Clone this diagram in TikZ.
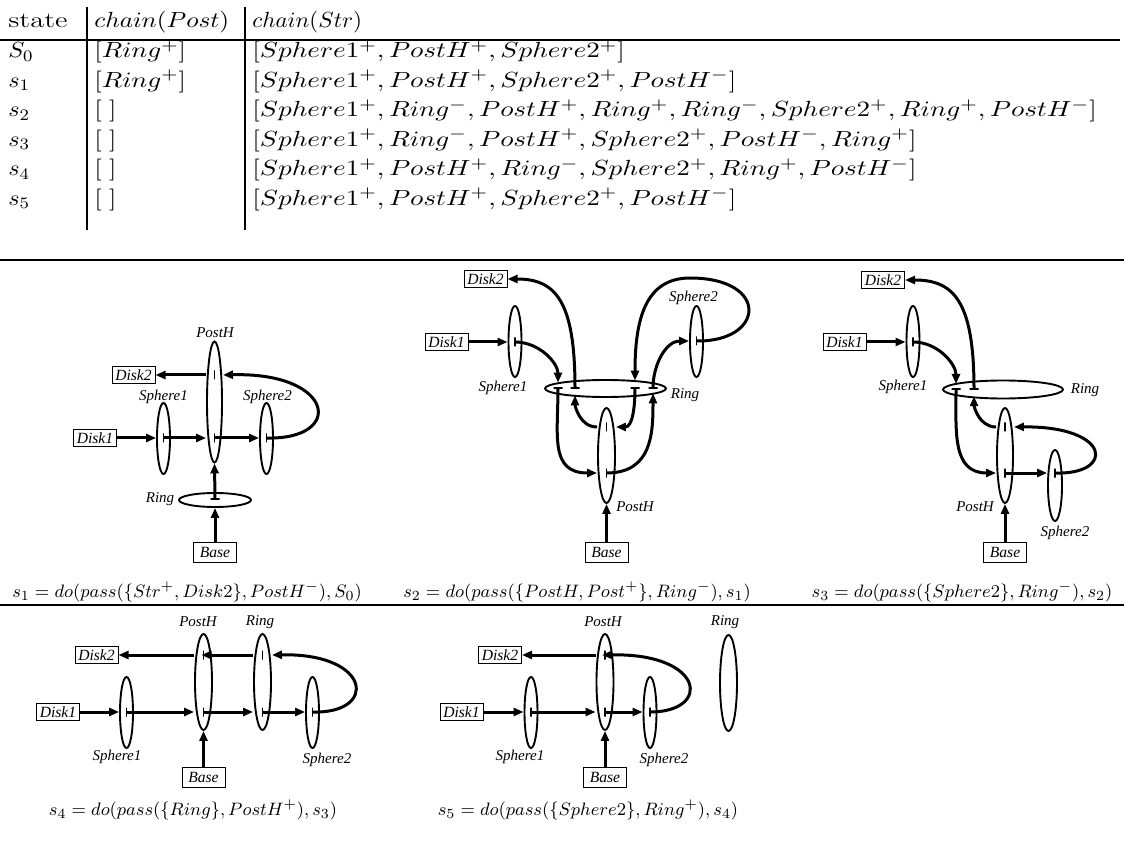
\documentclass[tikz,border=0pt]{standalone}
\usepackage{fontspec}
\newfontfamily\lblfont{Liberation Serif}
\usepackage{tikz}
\usetikzlibrary{arrows.meta,shapes.geometric}
\newcommand\hwide[2]{\scalebox{#1}[1]{#2}}

\begin{document}
\begin{tikzpicture}[
  x=0.5pt, y=-0.5pt,
  >={Triangle[length=5pt,width=4pt]},
  ell/.style 2 args={draw, ellipse, line width=0.95pt, inner sep=0pt, minimum width=#1, minimum height=#2},
  vtk/.style={draw, line width=0.7pt, inner sep=0pt, minimum width=0pt, minimum height=4.5pt},
  htk/.style={draw, line width=0.7pt, inner sep=0pt, minimum height=0pt, minimum width=4.5pt},
  box/.style={draw, line width=0.5pt, inner sep=0pt, minimum width=21.5pt, minimum height=8.5pt, font=\lblfont\itshape\fontsize{7.8}{9}\selectfont},
  lab/.style={inner sep=0pt, font=\lblfont\itshape\fontsize{7.5}{9}\selectfont},
  str/.style={->, line width=1.5pt},
  capt/.style={inner sep=0pt, font=\fontsize{9.5}{11}\selectfont},
  cell/.style={anchor=base west, inner sep=0pt, font=\fontsize{11}{13}\selectfont},
  rule/.style={line width=1pt},
]
\useasboundingbox (0,0) rectangle (1124,844);

% Table of chains
\node[cell] (h1) at (8,28) {\hwide{1.3}{state}};
\node[cell] (h2) at (94,28) {\hwide{1.15}{$chain(Post)$}};
\node[cell] (h3) at (252,28) {\hwide{1.05}{$chain(Str)$}};
\foreach \st/\po/\sr [count=\i] in {
  {$S_0$}/{$[Ring^+]$}/{$[Sphere1^+, PostH^+, Sphere2^+]$},
  {$s_1$}/{$[Ring^+]$}/{$[Sphere1^+, PostH^+, Sphere2^+, PostH^-]$},
  {$s_2$}/{$[\;]$}/{$[Sphere1^+, Ring^-, PostH^+, Ring^+, Ring^-, Sphere2^+, Ring^+, PostH^-]$},
  {$s_3$}/{$[\;]$}/{$[Sphere1^+, Ring^-, PostH^+, Sphere2^+, PostH^-, Ring^+]$},
  {$s_4$}/{$[\;]$}/{$[Sphere1^+, PostH^+, Ring^-, Sphere2^+, Ring^+, PostH^-]$},
  {$s_5$}/{$[\;]$}/{$[Sphere1^+, PostH^+, Sphere2^+, PostH^-]$}}
{
  \node[cell] (st\i) at (8,{28.5+29.5*\i}) {\hwide{1.1}{\st}};
  \node[cell] (po\i) at (94,{28.5+29.5*\i}) {\hwide{1.22}{\po}};
  \node[cell] (sr\i) at (252,{28.5+29.5*\i}) {\hwide{1.24}{\sr}};
}
\draw[rule, line width=1.2pt] (0,40) -- (1120,40);
\draw[rule] (87,7) -- (87,230) (245,7) -- (245,230);
\draw[rule] (0,260) -- (1124,260);
\draw[rule, line width=1.3pt] (0,605) -- (1124,605);

% Panel s1
\node[ell={7.5pt}{60.5pt}] (ph1) at (214.5,402) {};
\node[ell={6.5pt}{35.5pt}] (sa1) at (163.5,438.5) {};
\node[ell={6.5pt}{35.5pt}] (sb1) at (266.5,438.5) {};
\node[ell={36pt}{7pt}] (rg1) at (215,500) {};
\node[vtk] (tp1a) at (214.5,375) {}; \node[vtk] (tp1b) at (214.5,438) {};
\node[vtk] (ta1) at (163.5,438) {}; \node[vtk] (tb1) at (266.5,438) {};
\node[htk] (tr1) at (215,499) {};
\node[box] (d11) at (95,438) {Disk1};
\node[box] (d21) at (133.5,375) {Disk2};
\node[box, minimum height=10pt] (bs1) at (215,552) {Base};
\node[lab] (l1p) at (215,333) {PostH};
\node[lab] (l1a) at (163.5,397) {Sphere1};
\node[lab] (l1b) at (267.5,397) {Sphere2};
\node[lab] (l1r) at (160,499) {Ring};
\draw[str] (d11.east) -- (d11.east -| sa1.west);
\draw[str] (ta1.center) -- (ta1 -| ph1.west);
\draw[str] (tp1b.center) -- (tp1b -| sb1.west);
\draw[str] (tb1.center) .. controls (345,440) and (335,372) .. (tp1a -| ph1.east);
\draw[str] (tp1a -| ph1.west) -- (d21.east);
\draw[str] (tr1.center) -- (ph1.south);
\draw[str] (bs1.north) -- (rg1.south);
\node[capt] (c1) at (187,592) {$s_1 = do(pass(\{Str^+, Disk2\}, PostH^-), S_0)$};

% Panel s2
\node[ell={60.5pt}{8.5pt}] (rg2) at (605.5,388.5) {};
\node[ell={6.5pt}{35.5pt}] (sa2) at (515,341.5) {};
\node[ell={6.5pt}{35.5pt}] (sb2) at (696.5,341.5) {};
\node[ell={8.5pt}{47.5pt}] (ph2) at (606.5,455.5) {};
\node[htk] (tr2a) at (558,388) {}; \node[htk] (tr2b) at (575,388) {};
\node[htk] (tr2c) at (635,388) {}; \node[htk] (tr2d) at (653,388) {};
\node[vtk] (ta2) at (515,342) {}; \node[vtk] (tb2) at (696.5,341) {};
\node[vtk] (tp2a) at (606.5,427) {}; \node[vtk] (tp2b) at (606.5,473) {};
\node[box] (d12) at (446.5,342) {Disk1};
\node[box] (d22) at (485.5,279) {Disk2};
\node[box, minimum height=10pt] (bs2) at (606.5,552) {Base};
\node[lab] (l2p) at (635,507) {PostH};
\node[lab] (l2r) at (685,395) {Ring};
\node[lab] (l2a) at (503,388) {Sphere1};
\node[lab] (l2b) at (693.5,298) {Sphere2};
\draw[str] (d12.east) -- (d12.east -| sa2.west);
\draw[str, shorten >=2.7pt] (ta2.center) to[out=0,in=90] (tr2a.center);
\draw[str] (tr2b.center) .. controls (575,300) and (555,279) .. (d22.east);
\draw[str] (tr2d.center) to[out=90,in=180] (tb2 -| sb2.west);
\draw[str, shorten >=3.7pt] (tb2.center) .. controls (765,342) and (770,278) .. (690,278)
  .. controls (645,278) and (635,320) .. (tr2c.center);
\draw[str] (tr2a.center) to[out=-90,in=180,looseness=1.3] (tp2b -| ph2.west);
\draw[str, shorten >=2.7pt] (tp2b.center) to[out=0,in=-90,looseness=1.2] (tr2d.center);
\draw[str] (tr2c.center) to[out=-90,in=0] (tp2a -| ph2.east);
\draw[str, shorten >=3.7pt] (tp2a -| ph2.west) to[out=180,in=-90] (tr2b.center);
\draw[str] (bs2.north) -- (ph2.south);
\node[capt] (c2) at (577,592) {$s_2 = do(pass(\{PostH, Post^+\}, Ring^-), s_1)$};

% Panel s3
\node[ell={60pt}{9pt}] (rg3) at (1003,389.5) {};
\node[ell={6.5pt}{35.5pt}] (sa3) at (913,341.5) {};
\node[ell={8pt}{47.5pt}] (ph3) at (1005,455.5) {};
\node[ell={7pt}{35.5pt}] (sb3) at (1055,485.5) {};
\node[htk] (tr3a) at (956,389) {}; \node[htk] (tr3b) at (974,389) {};
\node[vtk] (ta3) at (913,342) {}; \node[vtk] (tb3) at (1055,473) {};
\node[vtk] (tp3a) at (1005,427) {}; \node[vtk] (tp3b) at (1005,473) {};
\node[box] (d13) at (844.5,342) {Disk1};
\node[box] (d23) at (883,280) {Disk2};
\node[box, minimum height=10pt] (bs3) at (1005,552) {Base};
\node[lab] (l3a) at (903,387) {Sphere1};
\node[lab] (l3r) at (1085,390) {Ring};
\node[lab] (l3p) at (975,507) {PostH};
\node[lab] (l3b) at (1065,533) {Sphere2};
\draw[str] (d13.east) -- (d13.east -| sa3.west);
\draw[str, shorten >=2.5pt] (ta3.center) to[out=0,in=90] (tr3a.center);
\draw[str] (tr3b.center) .. controls (974,300) and (953,280) .. (d23.east);
\draw[str] (tr3a.center) to[out=-90,in=180,looseness=1.2] (tp3b -| ph3.west);
\draw[str, shorten >=3.6pt] (tp3a -| ph3.west) to[out=180,in=-90] (tr3b.center);
\draw[str] (tp3b.center) -- (tp3b -| sb3.west);
\draw[str] (tb3.center) .. controls (1115,475) and (1112,426) .. (tp3a -| ph3.east);
\draw[str] (bs3.north) -- (ph3.south);
\node[capt] (c3) at (962,592) {$s_3 = do(pass(\{Sphere2\}, Ring^-), s_2)$};

% Panel s4
\node[ell={8.5pt}{48pt}] (ph4) at (203.5,682) {};
\node[ell={8.5pt}{48pt}] (rg4) at (262.5,682) {};
\node[ell={6.5pt}{35.5pt}] (sa4) at (126.5,712.5) {};
\node[ell={6.5pt}{35.5pt}] (sb4) at (312.5,712.5) {};
\node[vtk] (tp4a) at (203.5,655) {}; \node[vtk] (tp4b) at (203.5,712) {};
\node[vtk] (tr4a) at (262.5,655) {}; \node[vtk] (tr4b) at (262.5,712) {};
\node[vtk] (ta4) at (126.5,712) {}; \node[vtk] (tb4) at (312.5,712) {};
\node[box] (d14) at (58,712) {Disk1};
\node[box] (d24) at (96.5,655) {Disk2};
\node[box, minimum height=10pt] (bs4) at (203.5,777.5) {Base};
\node[lab] (l4p) at (198,622) {PostH};
\node[lab] (l4r) at (260,622) {Ring};
\node[lab] (l4a) at (117,757) {Sphere1};
\node[lab] (l4b) at (327,760) {Sphere2};
\draw[str] (d14.east) -- (d14.east -| sa4.west);
\draw[str] (ta4.center) -- (ta4 -| ph4.west);
\draw[str] (tp4b.center) -- (tp4b -| rg4.west);
\draw[str] (tr4b.center) -- (tr4b -| sb4.west);
\draw[str] (tb4.center) .. controls (378,714) and (372,653) .. (tr4a -| rg4.east);
\draw[str, shorten >=-1pt] (tr4a -| rg4.west) -- (tp4a.center);
\draw[str] (tp4a -| ph4.west) -- (d24.east);
\draw[str] (bs4.north) -- (ph4.south);
\node[capt] (c4) at (193,810) {$s_4 = do(pass(\{Ring\}, PostH^+), s_3)$};

% Panel s5
\node[ell={8.5pt}{48pt}] (ph5) at (605,682) {};
\node[ell={8.5pt}{48pt}] (rg5) at (728.5,683) {};
\node[ell={6.5pt}{35.5pt}] (sa5) at (531,712.5) {};
\node[ell={6.5pt}{35.5pt}] (sb5) at (650,712.5) {};
\node[vtk] (tp5a) at (605,655) {}; \node[vtk] (tp5b) at (605,712) {};
\node[vtk] (ta5) at (531,712) {}; \node[vtk] (tb5) at (650,712) {};
\node[box] (d15) at (461.5,712) {Disk1};
\node[box] (d25) at (500,655) {Disk2};
\node[box, minimum height=10pt] (bs5) at (605,777.5) {Base};
\node[lab] (l5p) at (603,622) {PostH};
\node[lab] (l5r) at (725,622) {Ring};
\node[lab] (l5a) at (520,757) {Sphere1};
\node[lab] (l5b) at (664,760) {Sphere2};
\draw[str] (d15.east) -- (d15.east -| sa5.west);
\draw[str] (ta5.center) -- (ta5 -| ph5.west);
\draw[str] (tp5b.center) -- (tp5b -| sb5.west);
\draw[str, shorten >=-1.5pt] (tb5.center) .. controls (712,712) and (705,653) .. (tp5a.center);
\draw[str] (tp5a -| ph5.west) -- (d25.east);
\draw[str] (bs5.north) -- (ph5.south);
\node[capt] (c5) at (588,810) {$s_5 = do(pass(\{Sphere2\}, Ring^+), s_4)$};
\end{tikzpicture}
\end{document}
